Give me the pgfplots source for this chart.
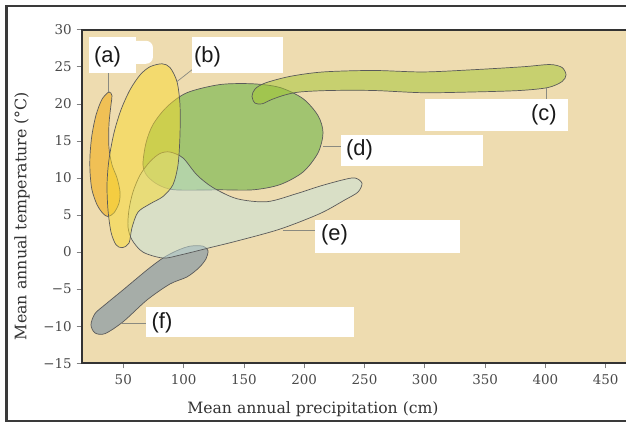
\documentclass[border=0pt]{standalone}
\usepackage{fontspec}
\setmainfont{DejaVu Serif}
\newfontfamily\labelfont{Liberation Sans}
\usepackage{pgfplots}
\pgfplotsset{compat=1.18}
\definecolor{bgtan}{HTML}{EEDCB0}
\definecolor{framegray}{HTML}{3A3A3A}
\definecolor{axisgray}{HTML}{333333}
\definecolor{ticktext}{HTML}{4A4A4A}
\definecolor{outl}{HTML}{5A5A5A}
\definecolor{leader}{HTML}{8A8A80}
\definecolor{dgreen}{HTML}{A1C470}
\definecolor{fgray}{HTML}{A6ADA8}
\definecolor{aorange}{HTML}{F0C055}
\definecolor{cbase}{HTML}{A2C630}
\definecolor{ebase}{HTML}{C6E2DC}
\definecolor{bbase}{HTML}{F8DA2E}
\begin{document}
\begin{tikzpicture}[x=1bp,y=1bp]
\useasboundingbox (0,0) rectangle (626,425);
\fill[white] (0,0) rectangle (626,425);
\draw[line width=2.6bp, color=framegray] (640,419) -- (6.5,419) -- (6.5,4) -- (640,4);
\begin{axis}[
  at={(81.7bp,61.7bp)}, anchor=south west,
  width=548.7bp, height=333.6bp, scale only axis,
  xmin=15.5, xmax=470.5, ymin=-15, ymax=30,
  axis background/.style={fill=bgtan},
  axis line style={line width=1.8bp, draw=axisgray},
  xtick={50,100,...,450}, ytick={-15,-10,...,30},
  yticklabels={−15,−10,−5,0,5,10,15,20,25,30},
  tick pos=left, tick align=outside, major tick length=5bp,
  tick style={line width=0.6bp, color=gray},
  /pgf/number format/assume math mode=true,
  ticklabel style={font=\fontsize{13.5}{15}\selectfont, text=ticktext},
  xticklabel style={yshift=-2.5bp},
  yticklabel style={xshift=-1.5bp},
  xlabel={Mean annual precipitation (cm)},
  ylabel={Mean annual temperature (°C)},
  xlabel style={font=\fontsize{15.7}{18}\selectfont, text=axisgray, at={(axis description cs:0.4215,-0.137)}, anchor=center},
  ylabel style={font=\fontsize{15.9}{18}\selectfont, text=axisgray, at={(axis description cs:-0.1088,0.4415)}, anchor=center},
  clip=false,
]
% (d)
\addplot[smooth cycle, draw=outl, line width=0.7bp, fill=dgreen] coordinates {
(66.3,11.8) (68.8,14.7) (74.6,17.2) (86.2,19.6) (102.8,21.5) (130.2,22.6) (157.6,22.7)
(179.9,22.2) (199.0,20.7) (211.5,18.4) (215.6,16.1) (211.5,13.4) (199.0,10.8) (179.9,9.1)
(157.6,8.4) (130.2,8.4) (92.9,8.4) (78.8,9.1) (69.7,10.3)};
% (f)
\addplot[smooth cycle, draw=outl, line width=0.7bp, fill=fgray] coordinates {
(26.5,-8.3) (34.8,-7.1) (49.8,-5.1) (69.7,-2.4) (82.9,-0.8) (94.5,0.2) (105.3,0.8)
(116.1,0.8) (120.2,0.2) (118.6,-0.9) (112.8,-2.1) (102.8,-3.35) (88.7,-4.3) (69.7,-6.45)
(49.8,-9.4) (34.8,-11.0) (26.5,-10.9) (23.2,-9.8)};
% (a)
\addplot[smooth cycle, draw=outl, line width=0.7bp, fill=aorange] coordinates {
(38.1,21.6) (32.3,20.6) (27.4,18.5) (24.0,15.8) (22.4,13.1) (22.4,10.8) (24.0,8.4)
(28.2,6.4) (33.2,5.2) (37.3,4.8) (42.3,5.3) (46.4,6.6) (47.3,8.1) (44.8,10.0)
(40.6,11.8) (38.1,14.1) (38.1,17.2) (39.8,19.9) (40.6,21.1)};
% (c)
\addplot[smooth cycle, draw=outl, line width=0.7bp, fill=cbase, fill opacity=0.5] coordinates {
(156.7,21.0) (159.2,22.0) (167.5,22.8) (188.2,23.7) (215.6,24.3) (257.1,24.5) (298.5,24.3)
(340.0,24.6) (381.4,25.0) (403.8,25.3) (413.8,24.9) (417.1,23.9) (413.8,23.0) (402.2,22.2)
(378.9,21.8) (340.0,21.6) (298.5,21.5) (257.1,21.8) (221.4,21.8) (196.5,21.6) (184.1,21.2)
(173.3,20.6) (165.0,20.0) (159.2,20.1)};
% (e)
\addplot[smooth cycle, draw=outl, line width=0.7bp, fill=ebase, fill opacity=0.5] coordinates {
(88.7,13.5) (99.5,12.7) (111.1,10.4) (124.4,8.7) (144.3,7.2) (169.2,6.8) (194.0,7.9)
(213.1,8.9) (232.2,9.75) (242.1,10.0) (247.9,9.3) (244.6,8.1) (233.8,7.05) (213.1,5.2)
(179.9,3.1) (144.3,1.5) (121.9,0.6) (97.0,-0.4) (82.9,-0.8) (66.3,0.0) (57.2,1.65)
(53.9,3.4) (54.7,5.7) (58.0,8.1) (63.9,10.4) (72.1,12.2) (80.4,13.3)};
% (b)
\addplot[smooth cycle, draw=outl, line width=0.7bp, fill=bbase, fill opacity=0.5] coordinates {
(82.1,25.4) (72.1,25.0) (63.9,23.9) (55.6,21.9) (48.1,19.2) (42.3,16.1) (38.1,12.45)
(36.5,9.1) (37.3,5.7) (39.8,2.7) (43.9,1.0) (48.9,0.6) (54.7,1.2) (57.2,3.3)
(62.2,5.4) (72.1,6.5) (82.9,7.5) (91.2,9.1) (95.4,11.8) (97.0,15.8) (97.0,19.9)
(94.5,23.0) (88.7,24.9)};
% leader lines
\draw[leader, line width=0.7bp] (axis cs:37.3,24.2) -- (axis cs:37.3,21.6);
\draw[leader, line width=0.7bp] (axis cs:107.0,24.6) -- (axis cs:94.5,23.0);
\draw[leader, line width=0.7bp] (axis cs:400.5,22.2) -- (axis cs:400.5,20.7);
\draw[leader, line width=0.7bp] (axis cs:215.6,14.2) -- (axis cs:230.5,14.2);
\draw[leader, line width=0.7bp] (axis cs:182.4,3.0) -- (axis cs:209.0,3.0);
\draw[leader, line width=0.7bp] (axis cs:48.9,-9.55) -- (axis cs:68.8,-9.55);
% white boxes
\fill[white] (axis cs:21.6,24.2) rectangle (axis cs:60.5,29.05);
\fill[white, rounded corners=7bp] (axis cs:55,25.4) rectangle (axis cs:74.6,28.5);
\fill[white] (axis cs:107.0,24.2) rectangle (axis cs:182.4,29.05);
\fill[white] (axis cs:300.2,16.4) rectangle (axis cs:418.7,20.7);
\fill[white] (axis cs:230.5,11.6) rectangle (axis cs:348.3,15.8);
\fill[white] (axis cs:209.0,-0.1) rectangle (axis cs:329.2,4.35);
\fill[white] (axis cs:68.8,-11.45) rectangle (axis cs:241.3,-7.4);
% labels
\begin{scope}[every node/.style={font=\labelfont\fontsize{22}{24}\selectfont, text=black!90, anchor=center, inner sep=0pt}]
\node at (axis cs:36.9,26.4) {(a)};
\node at (axis cs:119.8,26.4) {(b)};
\node at (axis cs:398.8,18.5) {(c)};
\node at (axis cs:245.9,13.8) {(d)};
\node at (axis cs:225.1,2.3) {(e)};
\node at (axis cs:82.1,-9.5) {(f)};
\end{scope}
\end{axis}
\end{tikzpicture}
\end{document}
